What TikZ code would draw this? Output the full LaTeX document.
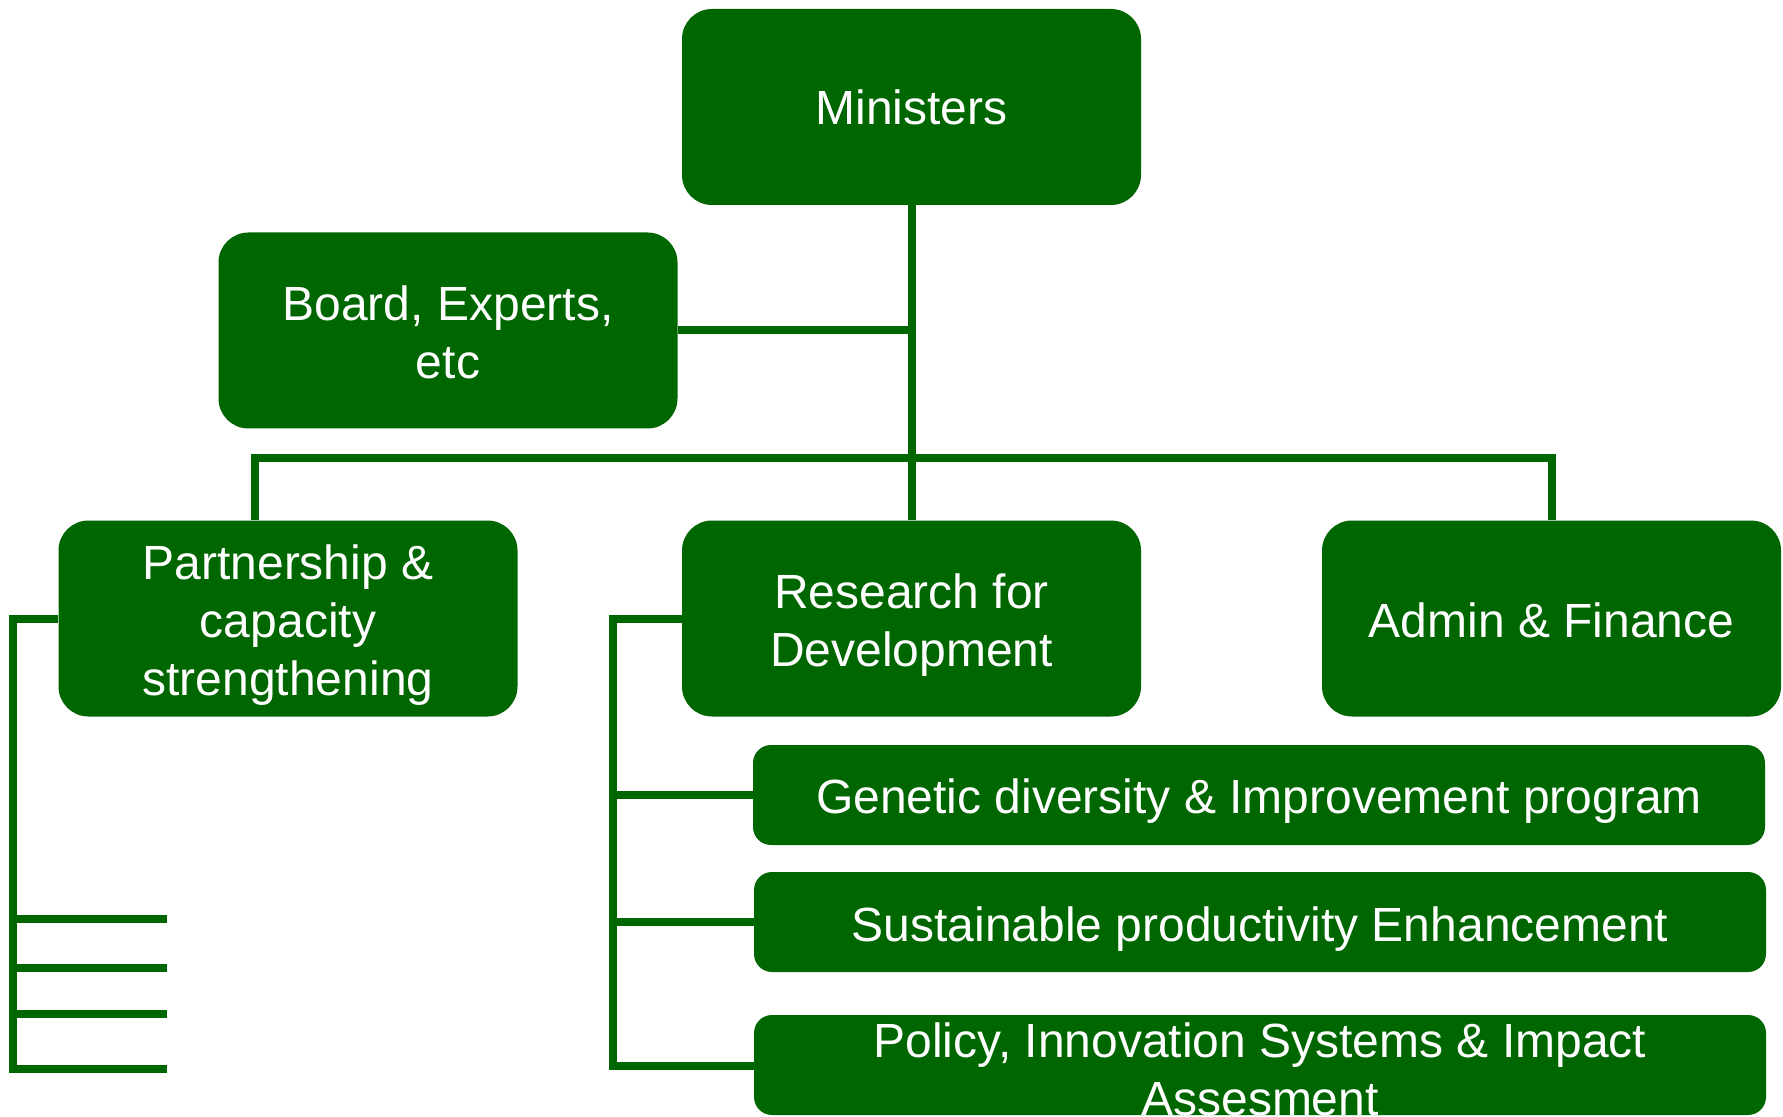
\documentclass[tikz,border=0pt]{standalone}
\usepackage{fontspec}
\setmainfont{Liberation Sans}
\definecolor{orggreen}{RGB}{0,102,0}
\begin{document}
\begin{tikzpicture}[x=0.5pt,y=-0.5pt,
  unit/.style={fill=orggreen, rounded corners=15pt,
    minimum width=229.5pt, minimum height=98pt, inner sep=0pt},
  program/.style={unit, rounded corners=9pt, minimum width=506pt, minimum height=50pt},
  caption/.style={text=white, align=center, inner sep=0pt,
    font=\fontsize{24}{29}\selectfont},
  link/.style={draw=orggreen, line width=4pt}]
\useasboundingbox (0,0) rectangle (1783,1117);
\clip (0,0) rectangle (1783,1117);

% unit boxes
\node[unit] (min)   at (911.5,107)    {};
\node[unit] (board) at (448,330.5)    {};
\node[unit] (part)  at (288,618.5)    {};
\node[unit] (res)   at (911.5,618.5)  {};
\node[unit] (admin) at (1551.5,618.5) {};

% research program boxes
\node[program] (gen) at (1259,795)  {};
\node[program] (sus) at (1260,922)  {};
\node[program] (pol) at (1260,1065) {};

% box captions
\node[caption] (minT)   at (min.center)                  {Ministers};
\node[caption] (boardT) at ([yshift=-1pt]board.center)   {Board, Experts,\\etc};
\node[caption] (partT)  at ([yshift=-3.5pt]part.center)  {Partnership \&\\capacity\\strengthening};
\node[caption] (resT)   at ([yshift=-3.5pt]res.center)   {Research for\\Development};
\node[caption] (adminT) at ([yshift=-1pt]admin.center)   {Admin \& Finance};
\node[caption] (genT)   at ([yshift=-3pt]gen.center)     {Genetic diversity \& Improvement program};
\node[caption] (susT)   at ([yshift=-3.5pt]sus.center)   {Sustainable productivity Enhancement};
\node[caption] (polT)   at ([yshift=-2pt]pol.center)     {Policy, Innovation Systems \& Impact\\Assesment};

% hierarchy lines
\draw[link] (min.south) -- (res.north);
\draw[link] (board.east) -- (board.east -| min.south);
\coordinate (busL) at (255,458);
\coordinate (busR) at (1552,458);
\draw[link] (busL |- part.north) -- (busL) -- (busR) -- (busR |- admin.north);

% partnership bracket
\coordinate (lspine) at (12.5,1069);
\coordinate (t1) at (167,919);
\coordinate (t2) at (167,968);
\coordinate (t3) at (167,1014);
\coordinate (t4) at (167,1069);
\draw[link] (part.west) -| (lspine) -- (t4);
\foreach \t in {t1,t2,t3}
  \draw[link] (\t -| lspine) -- (\t);

% research bracket
\coordinate (rspine) at (613,1066);
\draw[link] (res.west) -| (rspine) -- (rspine -| pol.west);
\draw[link] (gen.west -| rspine) -- (gen.west);
\draw[link] (sus.west -| rspine) -- (sus.west);
\end{tikzpicture}
\end{document}
